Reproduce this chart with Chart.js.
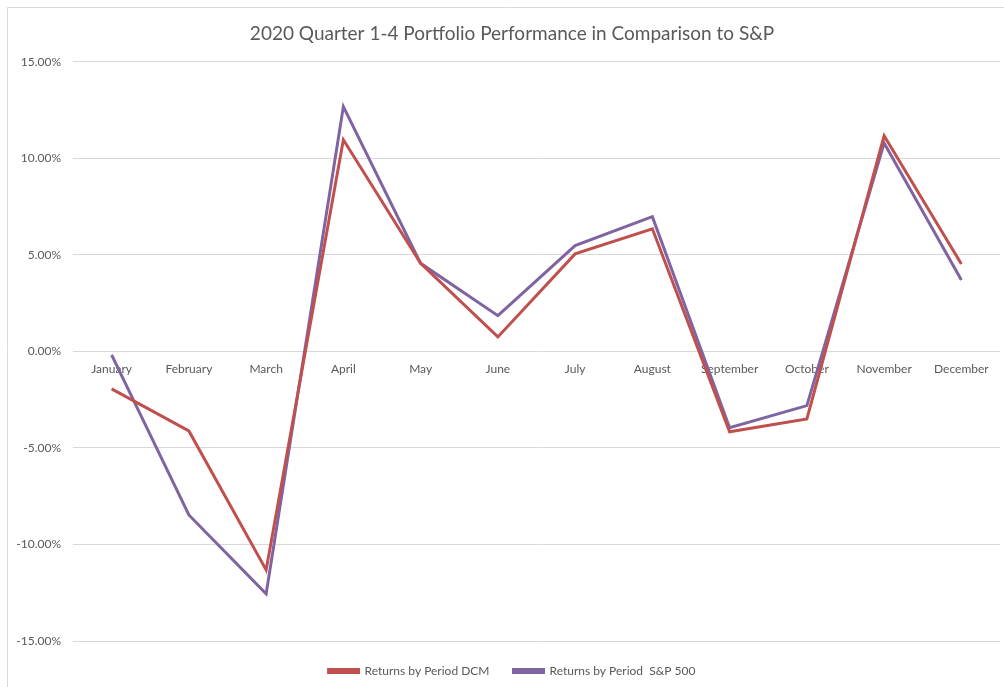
<!DOCTYPE html>
<html>
<head>
<meta charset="utf-8">
<script src="https://cdn.jsdelivr.net/npm/chart.js@4/dist/chart.umd.min.js"></script>
<style>
  html, body { margin: 0; padding: 0; background: #fff; }
  #wrap { position: absolute; left: 0; top: 0; width: 1004px; height: 687px; }
</style>
</head>
<body>
<div id="wrap"><canvas id="chart" width="1004" height="687"></canvas></div>
<script>
const months = ['January', 'February', 'March', 'April', 'May', 'June', 'July', 'August', 'September', 'October', 'November', 'December'];
const dcmReturns = [-1.94, -4.12, -11.32, 10.96, 4.56, 0.75, 5.05, 6.35, -4.16, -3.50, 11.17, 4.53];
const spReturns = [-0.18, -8.47, -12.56, 12.68, 4.56, 1.85, 5.48, 6.98, -3.95, -2.81, 10.79, 3.70];
const yTicks = [-15, -10, -5, 0, 5, 10, 15];

const textGray = '#595959';
const gridGray = '#d9d9d9';

// faint frame of the sheet on the top and left edges
const framePlugin = {
    id: 'frame',
    beforeDraw(chart) {
        const ctx = chart.ctx;
        ctx.save();
        ctx.strokeStyle = '#d9d9d9';
        ctx.lineWidth = 1;
        ctx.beginPath();
        ctx.moveTo(7.5, chart.height);
        ctx.lineTo(7.5, 7.5);
        ctx.lineTo(chart.width, 7.5);
        ctx.stroke();
        ctx.restore();
    }
};

// the excel chart area starts at the frame, so title and legend sit a bit right of the canvas centre
const centreShift = {
    id: 'centreShift',
    afterLayout(chart) {
        [chart.titleBlock, chart.legend].forEach(box => {
            if (box) {
                box.left += 12;
                box.right += 12;
            }
        });
    }
};

new Chart(document.getElementById('chart'), {
    type: 'line',
    data: {
        labels: months,
        datasets: [{
            label: 'Returns by Period DCM',
            data: dcmReturns,
            borderColor: '#c0504d',
            backgroundColor: '#c0504d',
            borderWidth: 3,
            pointRadius: 0,
            tension: 0,
            fill: false
        }, {
            label: 'Returns by Period  S&P 500',
            data: spReturns,
            borderColor: '#8064a2',
            backgroundColor: '#8064a2',
            borderWidth: 3,
            pointRadius: 0,
            tension: 0,
            fill: false
        }]
    },
    options: {
        responsive: false,
        animation: false,
        layout: { padding: { left: 0, right: 4, top: 0, bottom: 0 } },
        scales: {
            x: {
                position: { y: 0 },
                offset: true,
                grid: { display: false, drawTicks: false },
                border: { display: false },
                ticks: {
                    color: textGray,
                    font: { family: 'Lato', size: 12 },
                    padding: 11,
                    maxRotation: 0,
                    autoSkip: false
                }
            },
            y: {
                min: -15,
                max: 15,
                afterBuildTicks(scale) {
                    scale.ticks = yTicks.map(v => ({ value: v }));
                },
                afterFit(scale) {
                    scale.width = 73;
                },
                grid: { color: gridGray, drawTicks: false },
                border: { display: false },
                ticks: {
                    color: textGray,
                    font: { family: 'Lato', size: 12 },
                    padding: 12,
                    callback: v => v.toFixed(2) + '%'
                }
            }
        },
        plugins: {
            title: {
                display: true,
                text: '2020 Quarter 1-4 Portfolio Performance in Comparison to S&P',
                color: textGray,
                font: { family: 'Lato', size: 19, weight: 'normal' },
                padding: { top: 22, bottom: 17 }
            },
            legend: {
                position: 'bottom',
                labels: {
                    color: textGray,
                    font: { family: 'Lato', size: 12 },
                    boxWidth: 30,
                    boxHeight: 3,
                    padding: 24
                }
            },
            tooltip: { enabled: false }
        }
    },
    plugins: [framePlugin, centreShift]
});
</script>
</body>
</html>
